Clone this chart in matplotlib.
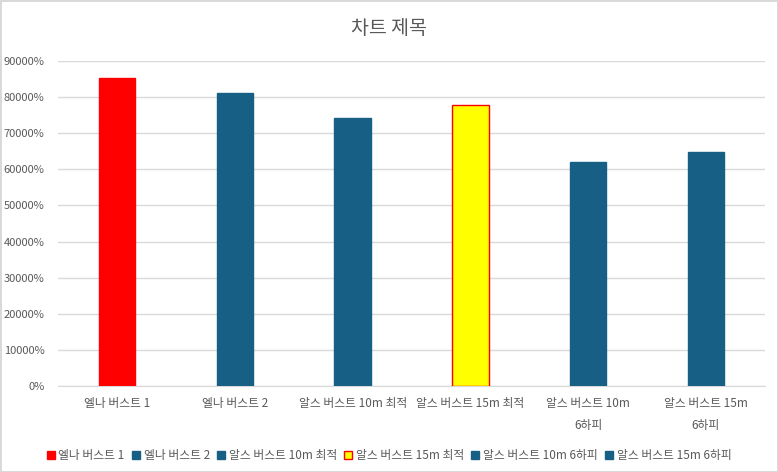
import matplotlib
matplotlib.use("Agg")
import matplotlib.pyplot as plt
from matplotlib.ticker import FuncFormatter

plt.rcParams['font.family'] = ['Noto Sans CJK KR', 'DejaVu Sans']

# data
categories = ["엘나 버스트 1", "엘나 버스트 2", "알스 버스트 10m 최적", "알스 버스트 15m 최적",
              "알스 버스트 10m 6하피", "알스 버스트 15m 6하피"]
tick_labels = ["엘나 버스트 1", "엘나 버스트 2", "알스 버스트 10m 최적", "알스 버스트 15m 최적",
               "알스 버스트 10m\n6하피", "알스 버스트 15m\n6하피"]
values = [85300, 81100, 74200, 77800, 62000, 64900]
colors = ["#ff0000", "#175f84", "#175f84", "#ffff00", "#175f84", "#175f84"]
edges = ["#ff0000", "#175f84", "#175f84", "#ff0000", "#175f84", "#175f84"]

fig = plt.figure(figsize=(7.78, 4.72), dpi=100)
fig.patch.set_edgecolor("#d9d9d9")
fig.patch.set_linewidth(1)
ax = fig.add_axes([0.075, 0.182, 0.908, 0.689])

for i in range(len(values)):
    ax.bar(i, values[i], width=0.31, color=colors[i], edgecolor=edges[i],
           linewidth=1, label=categories[i], zorder=3)

ax.set_xlim(-0.5, len(values) - 0.5)
ax.set_ylim(0, 90000)
ax.set_yticks(range(0, 90001, 10000))
ax.yaxis.set_major_formatter(FuncFormatter(lambda v, p: "%d%%" % v))
ax.grid(axis="y", color="#d9d9d9", linewidth=1, zorder=0)
ax.set_xticks(range(len(values)))
ax.set_xticklabels(tick_labels, fontsize=8.5, color="#595959", linespacing=1.9)
ax.tick_params(axis="y", labelsize=8, labelcolor="#595959", length=0, pad=10)
ax.tick_params(axis="x", length=0, pad=8)
for s in ["top", "right", "left"]:
    ax.spines[s].set_visible(False)
ax.spines["bottom"].set_color("#d9d9d9")

fig.text(0.5, 0.94, "차트 제목", ha="center", va="center", fontsize=14, color="#595959")

fig.legend(loc="center", bbox_to_anchor=(0.5, 0.035), ncol=6, frameon=False,
           fontsize=8.5, labelcolor="#595959", handlelength=0.7, handleheight=0.7,
           handletextpad=0.3, columnspacing=0.6)

fig.savefig("out.png", dpi=100)
